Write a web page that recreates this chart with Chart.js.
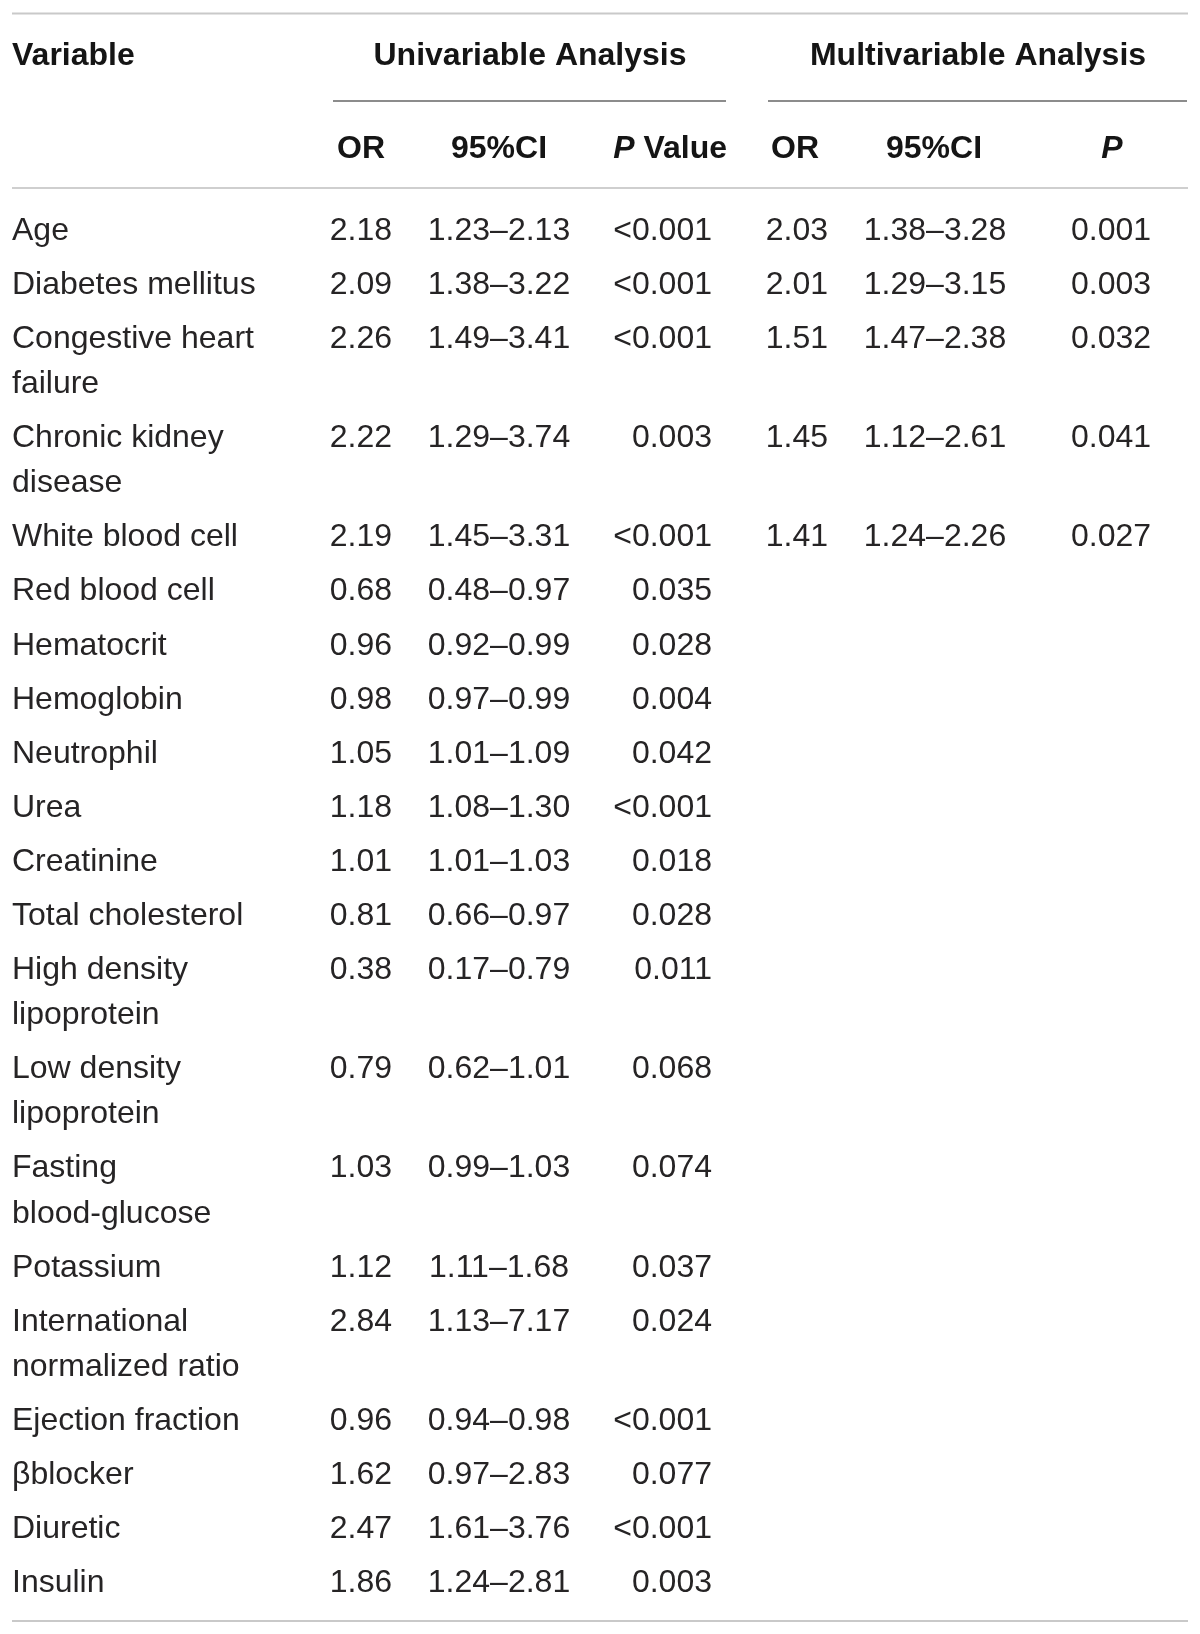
<!DOCTYPE html>
<html>
<head>
<meta charset="utf-8">
<script src="https://cdn.jsdelivr.net/npm/chart.js@4.4.1/dist/chart.umd.min.js"></script>
<style>
  html, body { margin: 0; padding: 0; background: #fff; }
  #wrap { width: 1200px; height: 1634px; position: relative; }
</style>
</head>
<body>
<div id="wrap"><canvas id="tbl"></canvas></div>
<script>
// table data
const variables = [
    'Age', 'Diabetes mellitus', 'Congestive heart\nfailure', 'Chronic kidney\ndisease',
    'White blood cell', 'Red blood cell', 'Hematocrit', 'Hemoglobin', 'Neutrophil',
    'Urea', 'Creatinine', 'Total cholesterol', 'High density\nlipoprotein',
    'Low density\nlipoprotein', 'Fasting\nblood-glucose', 'Potassium',
    'International\nnormalized ratio', 'Ejection fraction', 'βblocker', 'Diuretic', 'Insulin'
];
const uniOR = [2.18, 2.09, 2.26, 2.22, 2.19, 0.68, 0.96, 0.98, 1.05, 1.18, 1.01, 0.81, 0.38, 0.79, 1.03, 1.12, 2.84, 0.96, 1.62, 2.47, 1.86];
const uniLo = [1.23, 1.38, 1.49, 1.29, 1.45, 0.48, 0.92, 0.97, 1.01, 1.08, 1.01, 0.66, 0.17, 0.62, 0.99, 1.11, 1.13, 0.94, 0.97, 1.61, 1.24];
const uniHi = [2.13, 3.22, 3.41, 3.74, 3.31, 0.97, 0.99, 0.99, 1.09, 1.30, 1.03, 0.97, 0.79, 1.01, 1.03, 1.68, 7.17, 0.98, 2.83, 3.76, 2.81];
const uniP = ['<0.001', '<0.001', '<0.001', '0.003', '<0.001', '0.035', '0.028', '0.004', '0.042', '<0.001', '0.018',
    '0.028', '0.011', '0.068', '0.074', '0.037', '0.024', '<0.001', '0.077', '<0.001', '0.003'];
const multiOR = [2.03, 2.01, 1.51, 1.45, 1.41];
const multiLo = [1.38, 1.29, 1.47, 1.12, 1.24];
const multiHi = [3.28, 3.15, 2.38, 2.61, 2.26];
const multiP = ['0.001', '0.003', '0.032', '0.041', '0.027'];

const groupHeaders = ['Univariable Analysis', 'Multivariable Analysis'];
const colHeaders = ['Variable', 'OR', '95%CI', 'P Value', 'OR', '95%CI', 'P'];

// layout (pixels, scale units == canvas px)
const W = 1200, H = 1634;
const FONT = '"Liberation Sans", Arial, sans-serif';
const TEXT = '#262425';
const left = 12, right = 1188;
const firstRowY = 231, rowStep = 54.05, lineStep = 45.2;
// column anchor x and alignment
const cols = [
    { x: 12, align: 'left' },
    { x: 392, align: 'right' },
    { x: 499, align: 'center' },
    { x: 712, align: 'right' },
    { x: 828, align: 'right' },
    { x: 935, align: 'center' },
    { x: 1111, align: 'center' }
];

// row centre positions from line counts
const rowY = [];
let cursor = firstRowY;
variables.forEach(v => {
    rowY.push(cursor);
    cursor += rowStep + (v.split('\n').length - 1) * lineStep;
});

const ci = (lo, hi) => lo.toFixed(2) + '–' + hi.toFixed(2);
const columnsText = [
    variables,
    uniOR.map(v => v.toFixed(2)),
    uniLo.map((v, i) => ci(v, uniHi[i])),
    uniP,
    multiOR.map(v => v.toFixed(2)),
    multiLo.map((v, i) => ci(v, multiHi[i])),
    multiP
];

const datasets = columnsText.map((arr, c) => ({
    label: colHeaders[c],
    data: arr.map((t, r) => ({ x: cols[c].x, y: rowY[r], text: t })),
    pointRadius: 0,
    pointHoverRadius: 0
}));

const tablePlugin = {
    id: 'tableText',
    afterDatasetsDraw(chart) {
        const ctx = chart.ctx;
        const xs = chart.scales.x, ys = chart.scales.y;
        ctx.save();
        ctx.textBaseline = 'middle';

        // rules
        function rule(x1, x2, y, color) {
            ctx.strokeStyle = color;
            ctx.lineWidth = 2;
            ctx.beginPath();
            ctx.moveTo(xs.getPixelForValue(x1), ys.getPixelForValue(y));
            ctx.lineTo(xs.getPixelForValue(x2), ys.getPixelForValue(y));
            ctx.stroke();
        }
        rule(left, right, 13.5, '#c9c9c9');
        rule(333, 726, 101, '#8c8c8c');
        rule(768, 1187, 101, '#8c8c8c');
        rule(left, right, 188, '#cfcfcf');
        rule(left, right, 1621, '#c9c9c9');

        // headers
        ctx.fillStyle = '#151515';
        ctx.font = 'bold 32px ' + FONT;
        const hy1 = ys.getPixelForValue(56), hy2 = ys.getPixelForValue(149.5);
        ctx.textAlign = 'left';
        ctx.fillText(colHeaders[0], xs.getPixelForValue(12), hy1);
        ctx.textAlign = 'center';
        ctx.fillText(groupHeaders[0], xs.getPixelForValue(530), hy1);
        ctx.fillText(groupHeaders[1], xs.getPixelForValue(978), hy1);
        ctx.fillText(colHeaders[1], xs.getPixelForValue(361), hy2);
        ctx.fillText(colHeaders[2], xs.getPixelForValue(499), hy2);
        ctx.fillText(colHeaders[4], xs.getPixelForValue(795), hy2);
        ctx.fillText(colHeaders[5], xs.getPixelForValue(934), hy2);
        // italic P parts
        const pv = colHeaders[3].split(' ');
        ctx.textAlign = 'right';
        const vx = xs.getPixelForValue(727);
        ctx.fillText(pv[1], vx, hy2);
        const vw = ctx.measureText(pv[1]).width;
        ctx.font = 'italic bold 32px ' + FONT;
        ctx.fillText(pv[0] + ' ', vx - vw, hy2);
        ctx.textAlign = 'center';
        ctx.fillText(colHeaders[6], xs.getPixelForValue(1112), hy2);

        // body cells
        ctx.fillStyle = TEXT;
        ctx.font = '32px ' + FONT;
        chart.data.datasets.forEach((ds, c) => {
            const meta = chart.getDatasetMeta(c);
            ctx.textAlign = cols[c].align;
            meta.data.forEach((pt, r) => {
                const lines = ds.data[r].text.split('\n');
                lines.forEach((ln, k) => {
                    ctx.fillText(ln, pt.x, pt.y + k * lineStep);
                });
            });
        });
        ctx.restore();
    }
};

new Chart(document.getElementById('tbl'), {
    type: 'scatter',
    data: { datasets: datasets },
    options: {
        responsive: true,
        maintainAspectRatio: false,
        animation: false,
        events: [],
        layout: { padding: 0 },
        plugins: { legend: { display: false }, tooltip: { enabled: false } },
        scales: {
            x: { type: 'linear', min: 0, max: W, display: false },
            y: { type: 'linear', min: 0, max: H, reverse: true, display: false }
        }
    },
    plugins: [tablePlugin]
});
</script>
</body>
</html>
